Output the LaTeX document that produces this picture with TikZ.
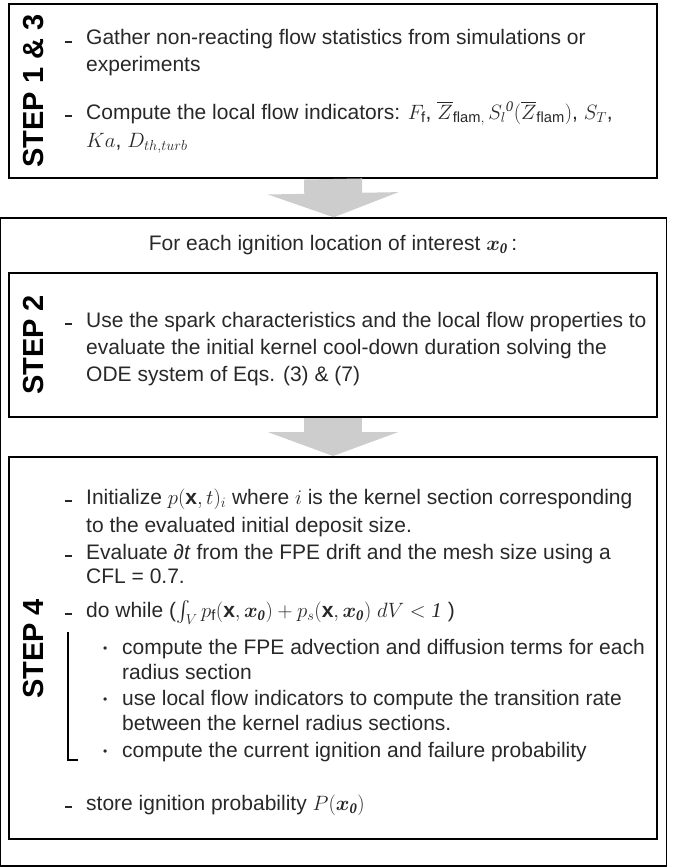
\documentclass[tikz,border=0pt]{standalone}
\usepackage{amsmath}
\usepackage{bm}
\usepackage{fontspec}
\setmainfont{Liberation Sans}
\newfontfamily\serifit{Liberation Serif}
\usepackage{tikz}
\usetikzlibrary{
  arrows.meta,
  positioning
}
\definecolor{arrowgray}{RGB}{205,205,205}
\definecolor{inkgray}{RGB}{40,40,40}
\newcommand{\itemdash}{\llap{\rule[2pt]{7pt}{1.8pt}\hspace{14pt}}}
\newcommand{\itembullet}{\llap{\raisebox{2pt}{\fontsize{12}{12}\selectfont\textbullet}\hspace{15pt}}}
\newcommand{\itzero}{\text{\serifit\itshape 0}}
\newcommand{\xzero}{\bm{x}_{\text{\serifit\bfseries\itshape 0}}}

\begin{document}
\begin{tikzpicture}[
  x=1pt, y=-1pt,
  font=\fontsize{21}{26}\selectfont,
  stepbox/.style={
    draw=black,
    line width=2pt,
    minimum width=648pt,
    inner sep=0pt
  },
  outerbox/.style={
    draw=black,
    line width=1.4pt,
    minimum width=666pt,
    minimum height=648pt,
    inner sep=0pt
  },
  steplabel/.style={
    rotate=90,
    font=\fontsize{29}{29}\selectfont\bfseries,
    inner sep=0pt
  },
  textline/.style={
    anchor=base west,
    inner sep=0pt,
    text=inkgray
  },
  bigarrow/.style={
    -{Triangle[length=24pt,width=130pt]},
    line width=58pt,
    draw=arrowgray
  }
]
\useasboundingbox (0,0) rectangle (675,867);

% boxes
\node[outerbox] (outer) at (333.7,542) {};
\node[stepbox, minimum height=174pt] (box13) at (333,91) {};
\node[stepbox, minimum height=144pt] (box2) at (333,345) {};
\node[stepbox, minimum height=382pt] (box4) at (333,648) {};

\draw[bigarrow] (box13.south) -- (outer.north);
\draw[bigarrow] (box2.south) -- (box4.north);

% step labels
\node[steplabel] (lab13) at (34,91) {STEP 1 \& 3};
\node[steplabel] (lab2) at (34,345) {STEP 2};
\node[steplabel] (lab4) at (34,649) {STEP 4};

% step 1 & 3
\node[textline] (gather) at (86,45) {\itemdash Gather non-reacting flow statistics from simulations or};
\node[textline] (gather2) at (86,71) {experiments};
\node[textline] (compute) at (86,119) {\itemdash Compute the local flow indicators: $F_{\mathrm f}$, $\overline{Z}_{\mathrm{flam},}\,S_l{}^{\itzero}(\overline{Z}_{\mathrm{flam}})$, $S_T$,};
\node[textline] (compute2) at (86,147) {$Ka$, $D_{th,turb}$};

\node[anchor=base, inner sep=0pt, text=inkgray] (foreach) at (333,250) {For each ignition location of interest $\xzero$\,:};

% step 2
\node[textline] (use) at (86,327) {\itemdash Use the spark characteristics and the local flow properties to};
\node[textline] (use2) at (86,354) {evaluate the initial kernel cool-down duration solving the};
\node[textline] (use3) at (86,381) {ODE system of Eqs. (3) \& (7)};

% step 4
\node[textline] (init) at (86,504) {\itemdash Initialize $p(\mathbf{x},t)_i$ where $i$ is the kernel section corresponding};
\node[textline] (init2) at (86,532) {to the evaluated initial deposit size.};
\node[textline] (evaluate) at (86,559) {\itemdash Evaluate ∂\textit{t} from the FPE drift and the mesh size using a};
\node[textline] (evaluate2) at (86,583) {CFL = 0.7.};
\node[textline] (dowhile) at (86,617) {\itemdash do while ($\int_V p_{\mathrm f}(\mathbf{x},\xzero) + p_s(\mathbf{x},\xzero)\ dV < \text{\serifit\itshape 1}$ )};
\node[textline] (fpe) at (122,654) {\itembullet compute the FPE advection and diffusion terms for each};
\node[textline] (fpe2) at (122,679) {radius section};
\node[textline] (rate) at (122,705) {\itembullet use local flow indicators to compute the transition rate};
\node[textline] (rate2) at (122,730) {between the kernel radius sections.};
\node[textline] (current) at (122,757) {\itembullet compute the current ignition and failure probability};
\node[textline] (store) at (86,810) {\itemdash store ignition probability $P(\xzero)$};

\coordinate (brtop) at (68,632);
\coordinate (brbot) at (68,760);
\coordinate (brend) at (78,760);
\draw[line width=1.2pt] (brtop) -- (brbot) -- (brend);

\end{tikzpicture}
\end{document}
